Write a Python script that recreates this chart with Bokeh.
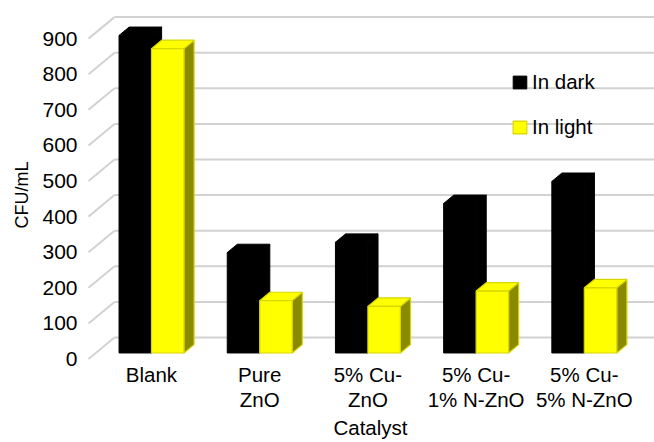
import numpy as np
from bokeh.plotting import figure
from bokeh.models import Range1d, FixedTicker, Legend, LegendItem, Title
from bokeh.embed import file_html
from bokeh.resources import INLINE

# ---- data -------------------------------------------------------------
categories = ["Blank", "Pure\nZnO", "5% Cu-\nZnO", "5% Cu-\n1% N-ZnO", "5% Cu-\n5% N-ZnO"]
series_names = ["In dark", "In light"]
in_dark = [892, 282, 311, 420, 482]     # CFU/mL
in_light = [855, 147, 131, 174, 183]    # CFU/mL
y_ticks = [0, 100, 200, 300, 400, 500, 600, 700, 800, 900]
x_title = "Catalyst"
y_title = "CFU/mL"

# ---- pseudo-3D geometry (data units) ----------------------------------
DEPTH_X = 0.24      # horizontal shift of the back wall (category units)
DEPTH_Y = 60.4      # vertical shift of the back wall (CFU/mL units)
BAR_D0, BAR_D1 = 0.28, 0.67   # bar front / back depth (0 = front, 1 = back wall)
BAR_W = 0.30        # width of one bar
WALL_LEFT = -0.582  # left edge of the floor / side wall

X_START, X_END = -0.6007, 4.6488
Y_START, Y_END = -4.2, 993.0

FONT = "Liberation Sans"
GRID_COLOR = "#D2D2D2"
DARK_COLOR = "#000000"
LIGHT_FRONT = "#FFFF00"
LIGHT_TOP = "#FFFF00"
LIGHT_SIDE = "#8A8A00"
LIGHT_EDGE = "#D6D600"


def proj(x, v, d):
    """Oblique projection of (x, value, depth) onto the plot plane."""
    return x + d * DEPTH_X, v + d * DEPTH_Y


def bar_faces(x0, x1, h):
    pts = {
        "front": [(x0, 0, BAR_D0), (x1, 0, BAR_D0), (x1, h, BAR_D0), (x0, h, BAR_D0)],
        "top": [(x0, h, BAR_D0), (x1, h, BAR_D0), (x1, h, BAR_D1), (x0, h, BAR_D1)],
        "side": [(x1, 0, BAR_D0), (x1, 0, BAR_D1), (x1, h, BAR_D1), (x1, h, BAR_D0)],
    }
    out = {}
    for k, poly in pts.items():
        xy = [proj(*p) for p in poly]
        out[k] = ([q[0] for q in xy], [q[1] for q in xy])
    return out


def series_faces(values, offset):
    faces = {"front": ([], []), "top": ([], []), "side": ([], [])}
    for i, v in enumerate(values):
        cx = i - BAR_D0 * DEPTH_X
        x0 = cx + offset * BAR_W
        f = bar_faces(x0, x0 + BAR_W, v)
        for k in faces:
            faces[k][0].append(f[k][0])
            faces[k][1].append(f[k][1])
    return faces


p = figure(
    width=654, height=442,
    x_range=Range1d(X_START, X_END), y_range=Range1d(Y_START, Y_END),
    output_backend="svg", toolbar_location=None,
    min_border_left=86, min_border_right=0, min_border_top=5, min_border_bottom=82,
)
p.outline_line_color = None
p.grid.visible = False
p.background_fill_color = "white"
p.border_fill_color = "white"

# walls: back-wall gridlines and side-wall diagonals
back_x0, back_x1, back_y = [], [], []
for v in y_ticks:
    bx, by = proj(WALL_LEFT, v, 1.0)
    back_x0.append(bx)
    back_x1.append(X_END + 0.05)
    back_y.append(by)
p.segment(x0=back_x0, y0=back_y, x1=back_x1, y1=back_y, line_color=GRID_COLOR, line_width=2)

side_xs, side_ys = [], []
for v in y_ticks:
    fx, fy = proj(WALL_LEFT, v, 0.0)
    bx, by = proj(WALL_LEFT, v, 1.0)
    side_xs.append([fx, bx])
    side_ys.append([fy, by])
p.multi_line(side_xs, side_ys, line_color=GRID_COLOR, line_width=2)

# bars
dark = series_faces(in_dark, -1)
light = series_faces(in_light, 0)

p.patches(*dark["side"], fill_color=DARK_COLOR, line_color=DARK_COLOR, line_width=1)
p.patches(*dark["top"], fill_color=DARK_COLOR, line_color=DARK_COLOR, line_width=1)
r_dark = p.patches(*dark["front"], fill_color=DARK_COLOR, line_color=DARK_COLOR, line_width=1)

p.patches(*light["side"], fill_color=LIGHT_SIDE, line_color=LIGHT_EDGE, line_width=1.2)
p.patches(*light["top"], fill_color=LIGHT_TOP, line_color=LIGHT_EDGE, line_width=1.2)
r_light = p.patches(*light["front"], fill_color=LIGHT_FRONT, line_color=LIGHT_EDGE, line_width=1.2)

# axes
ya = p.yaxis[0]
ya.ticker = FixedTicker(ticks=y_ticks)
ya.axis_line_color = None
ya.major_tick_line_color = None
ya.minor_tick_line_color = None
ya.major_label_standoff = 3
ya.major_label_text_font = FONT
ya.major_label_text_font_size = "21px"
ya.major_label_text_color = "black"

xa = p.xaxis[0]
xa.ticker = FixedTicker(ticks=list(range(len(categories))))
xa.major_label_overrides = {i: c for i, c in enumerate(categories)}
xa.axis_line_color = None
xa.major_tick_line_color = None
xa.minor_tick_line_color = None
xa.major_label_standoff = -4
xa.major_label_text_font = FONT
xa.major_label_text_font_size = "20.5px"
xa.major_label_text_line_height = 1.1
xa.major_label_text_color = "black"
xa.axis_label = x_title
xa.axis_label_text_font = FONT
xa.axis_label_text_font_size = "20.5px"
xa.axis_label_text_font_style = "normal"
xa.axis_label_text_color = "black"
xa.axis_label_standoff = 2

# vertical axis title, offset upward from the frame bottom
p.add_layout(Title(text=y_title, align="left", offset=132, standoff=16,
                   text_font=FONT, text_font_size="18px", text_font_style="normal",
                   text_color="black"), "left")

# legend
legend = Legend(
    items=[LegendItem(label=series_names[0], renderers=[r_dark]),
           LegendItem(label=series_names[1], renderers=[r_light])],
    location=(425, 221),
    orientation="vertical",
    background_fill_alpha=0, border_line_color=None,
    padding=0, margin=0, spacing=21,
    glyph_width=17, glyph_height=16, label_standoff=4,
    label_text_font=FONT, label_text_font_size="20.5px", label_text_color="black",
)
p.add_layout(legend)

open("out.html", "w").write(file_html(p, INLINE))
